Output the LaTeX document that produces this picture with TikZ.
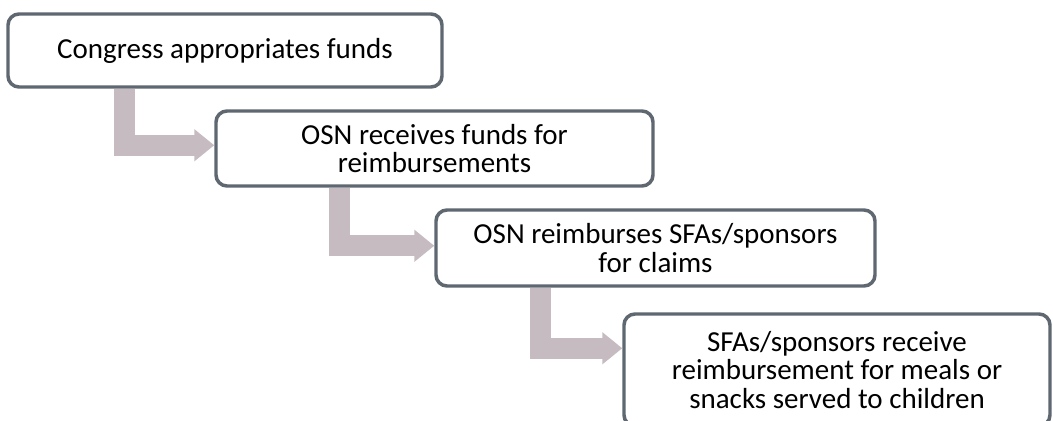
\documentclass[tikz,border=0pt]{standalone}
\usepackage{fontspec}
\setmainfont{Carlito}
\usetikzlibrary{arrows.meta, calc}
\definecolor{boxline}{RGB}{95,103,112}
\definecolor{flowgray}{RGB}{197,187,192}
\tikzset{
every node/.style={font=\fontsize{21.75}{21.5}\selectfont}, % text size of all labels
stage/.style={draw=boxline, line width=2.6pt, rounded corners=8.25pt, fill=white, align=center, inner sep=0pt}, % the rounded step boxes
flow/.style={draw=flowgray, line width=15.75pt, line join=miter, -{Triangle[length=15pt, width=23.25pt]}}, % the bent block arrows
}
\begin{document}
\begin{tikzpicture}[x=0.75pt, y=-0.75pt]
    \useasboundingbox (0,0) rectangle (1053,421);
    \node[stage, minimum width=325.5pt, minimum height=54.75pt] (s1) at (225,50.5) {Congress appropriates funds};
    \node[stage, minimum width=327.75pt, minimum height=56.25pt] (s2) at (434.5,148.5) {OSN receives funds for\\reimbursements};
    \node[stage, minimum width=329.25pt, minimum height=57pt] (s3) at (655.5,248) {OSN reimburses SFAs/sponsors\\for claims};
    \node[stage, minimum width=319.5pt, minimum height=84pt] (s4) at (837,370) {SFAs/sponsors receive\\reimbursement for meals or\\snacks served to children};
    \draw[flow] ($(s1.south west)+(118.5,0)$) |- ($(s2.north west)+(0,36)$);
    \draw[flow] ($(s2.south west)+(125,0)$) |- ($(s3.north west)+(0,37.5)$);
    \draw[flow] ($(s3.south west)+(106,0)$) |- ($(s4.north west)+(0,36)$);
  \end{tikzpicture}
\end{document}
